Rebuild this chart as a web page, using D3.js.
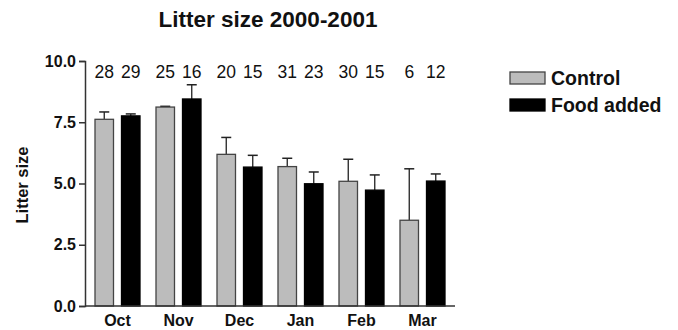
<!DOCTYPE html>
<html>
<head>
<meta charset="utf-8">
<script src="https://cdn.jsdelivr.net/npm/d3@7"></script>
<style>
  body { margin: 0; background: #fff; }
  text { font-family: "Liberation Sans", Arial, sans-serif; }
</style>
</head>
<body>
<svg id="chart"></svg>
<script>
// Data
const months = ["Oct", "Nov", "Dec", "Jan", "Feb", "Mar"];
const groups = ["Control", "Food added"];
const controlMean = [7.62, 8.12, 6.19, 5.69, 5.09, 3.50];
const controlErr = [0.30, 0.03, 0.69, 0.34, 0.90, 2.10];
const foodMean = [7.76, 8.45, 5.67, 4.99, 4.73, 5.10];
const foodErr = [0.08, 0.58, 0.48, 0.48, 0.62, 0.29];
const controlN = [28, 25, 20, 31, 30, 6];
const foodN = [29, 16, 15, 23, 15, 12];
const yTicks = [0, 2.5, 5, 7.5, 10];

const width = 678, height = 330;
const margin = {top: 61, right: 225, bottom: 24, left: 85};

const svg = d3.select("#chart")
    .attr("width", width)
    .attr("height", height);

// rows built from the arrays
const rows = months.map(function(m, i) {
    return {
        month: m,
        bars: [
            {key: "Control", mean: controlMean[i], err: controlErr[i], n: controlN[i]},
            {key: "Food added", mean: foodMean[i], err: foodErr[i], n: foodN[i]}
        ]
    };
});

const x0 = d3.scaleBand()
    .domain(months)
    .range([87, 453])
    .padding(0);

const x1 = d3.scaleBand()
    .domain(groups)
    .range([8, 53])
    .paddingInner(0.302)
    .paddingOuter(0);

const y = d3.scaleLinear()
    .domain([0, 10])
    .range([306, 61]);

const color = d3.scaleOrdinal()
    .domain(groups)
    .range(["#bcbcbc", "#000000"]);

// bars
const g = svg.selectAll("g.month")
    .data(rows)
    .enter()
    .append("g")
    .attr("class", "month")
    .attr("transform", function(d) { return "translate(" + x0(d.month) + ",0)"; });

// error bars (upper only), drawn behind bars
g.selectAll("line.err")
    .data(function(d) { return d.bars; })
    .enter()
    .append("line")
    .attr("x1", function(d) { return x1(d.key) + x1.bandwidth() / 2; })
    .attr("x2", function(d) { return x1(d.key) + x1.bandwidth() / 2; })
    .attr("y1", function(d) { return y(d.mean); })
    .attr("y2", function(d) { return y(d.mean + d.err); })
    .attr("stroke", "#222")
    .attr("stroke-width", 1.3);

g.selectAll("line.cap")
    .data(function(d) { return d.bars; })
    .enter()
    .append("line")
    .attr("x1", function(d) { return x1(d.key) + x1.bandwidth() / 2 - 5; })
    .attr("x2", function(d) { return x1(d.key) + x1.bandwidth() / 2 + 5; })
    .attr("y1", function(d) { return y(d.mean + d.err); })
    .attr("y2", function(d) { return y(d.mean + d.err); })
    .attr("stroke", "#222")
    .attr("stroke-width", 1.5);

g.selectAll("rect")
    .data(function(d) { return d.bars; })
    .enter()
    .append("rect")
    .attr("x", function(d) { return x1(d.key); })
    .attr("y", function(d) { return y(d.mean); })
    .attr("width", x1.bandwidth())
    .attr("height", function(d) { return y(0) - y(d.mean); })
    .attr("fill", function(d) { return color(d.key); })
    .attr("stroke", function(d) { return d.key === "Control" ? "#444" : "#000"; })
    .attr("stroke-width", 1.3);

// sample sizes above bars
g.selectAll("text.n")
    .data(function(d) { return d.bars; })
    .enter()
    .append("text")
    .attr("class", "n")
    .attr("x", function(d) { return x1(d.key) + x1.bandwidth() / 2; })
    .attr("y", 78)
    .attr("text-anchor", "middle")
    .attr("font-size", 17.5)
    .attr("fill", "#111")
    .text(function(d) { return d.n; });

// y axis
const yAxis = svg.append("g")
    .attr("transform", "translate(" + margin.left + ",0)")
    .call(d3.axisLeft(y).tickValues(yTicks).tickFormat(d3.format(".1f")).tickSize(6).tickPadding(3));

yAxis.select(".domain").attr("stroke", "#333").attr("stroke-width", 1.5);
yAxis.selectAll(".tick line").attr("stroke", "#333").attr("stroke-width", 1.5);
yAxis.selectAll(".tick text")
    .attr("font-size", 16)
    .attr("font-weight", "bold")
    .attr("fill", "#111")
    .style("font-family", "'Liberation Sans', Arial, sans-serif");

// x axis
const xAxis = svg.append("g")
    .attr("transform", "translate(0," + y(0) + ")")
    .call(d3.axisBottom(x0).tickSize(0).tickPadding(9));

xAxis.select(".domain")
    .attr("d", "M" + margin.left + ",0H455")
    .attr("stroke", "#333")
    .attr("stroke-width", 1.5);
xAxis.selectAll(".tick text")
    .attr("font-size", 16)
    .attr("font-weight", "bold")
    .attr("fill", "#111")
    .style("font-family", "'Liberation Sans', Arial, sans-serif");

// title
svg.append("text")
    .attr("x", 268)
    .attr("y", 27)
    .attr("text-anchor", "middle")
    .attr("font-size", 22.5)
    .attr("font-weight", "bold")
    .attr("fill", "#111")
    .text("Litter size 2000-2001");

// y axis title
svg.append("text")
    .attr("transform", "translate(28,185) rotate(-90)")
    .attr("text-anchor", "middle")
    .attr("font-size", 16.5)
    .attr("font-weight", "bold")
    .attr("fill", "#111")
    .text("Litter size");

// legend
const legend = svg.selectAll("g.legend")
    .data(groups)
    .enter()
    .append("g")
    .attr("class", "legend")
    .attr("transform", function(d, i) { return "translate(510," + (72 + i * 27) + ")"; });

legend.append("rect")
    .attr("width", 35)
    .attr("height", 12)
    .attr("fill", function(d) { return color(d); })
    .attr("stroke", function(d) { return d === "Control" ? "#444" : "#000"; })
    .attr("stroke-width", 1.3);

legend.append("text")
    .attr("x", 41)
    .attr("y", 13)
    .attr("font-size", 19.5)
    .attr("font-weight", "bold")
    .attr("fill", "#111")
    .text(function(d) { return d; });
</script>
</body>
</html>
